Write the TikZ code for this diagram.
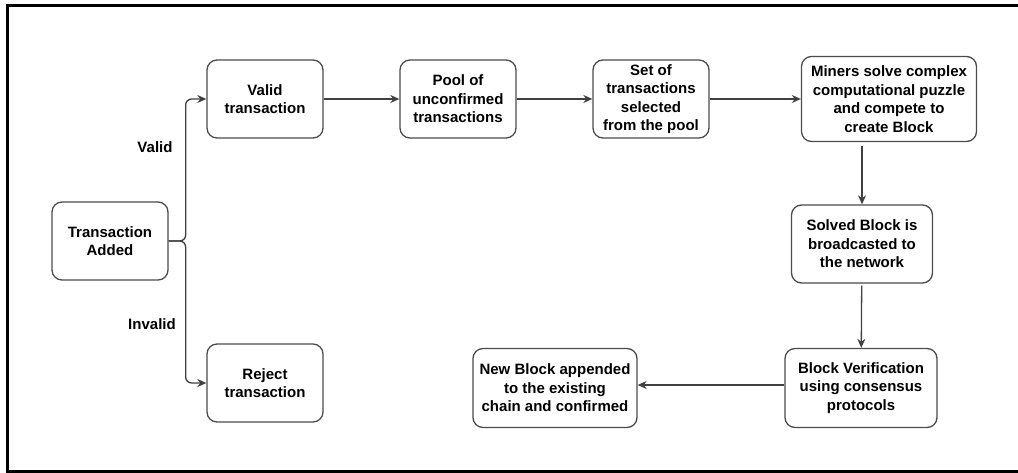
\documentclass[tikz,border=0pt]{standalone}
\usepackage{fontspec}
\setmainfont{Liberation Sans}
\usetikzlibrary{arrows.meta, positioning, calc}
\tikzset{
  box/.style={draw=black!70, line width=1.3pt, rounded corners=10pt, fill=white, minimum height=78pt, minimum width=116pt, inner sep=2pt, align=center, font=\fontsize{15}{18.5}\selectfont\bfseries},
  arr/.style={-{Stealth[length=9pt, width=8pt]}, line width=1.3pt, draw=black!75},
  lbl/.style={font=\fontsize{15}{18.5}\selectfont\bfseries},
}

\begin{document}
\begin{tikzpicture}[x=1pt, y=-1pt]
    \useasboundingbox (0,0) rectangle (1018,473);
    % frame
    \draw[line width=3pt] (1018,6) -- (7.5,6) -- (7.5,471.5) -- (1018,471.5);

    \node[box] (added) at (110,241) {Transaction\\Added};
    \node[box] (valid) at (265,99) {Valid\\transaction};
    \node[box] (reject) at (265,383) {Reject\\transaction};
    \node[box] (pool) at (458,99) {Pool of\\unconfirmed\\transactions};
    \node[box] (sel) at (651,99) {Set of\\transactions\\selected\\from the pool};
    \node[box, minimum width=175pt, minimum height=85pt] (miners) at (889,99) {Miners solve complex\\computational puzzle\\and compete to\\create Block};
    \node[box, minimum width=141pt] (solved) at (862,244) {Solved Block is\\broadcasted to\\the network};
    \node[box, minimum width=152pt, minimum height=79pt] (verify) at (861,388) {Block Verification\\using consensus\\protocols};
    \node[box, minimum width=164pt, minimum height=79pt] (newblk) at (555,388) {New Block appended\\to the existing\\chain and confirmed};

    % branch from the new transaction
    \coordinate (split) at ($(added.east)+(17,0)$);
    \draw[arr, rounded corners=6pt] (added.east) -- (split) |- (valid.west);
    \draw[arr, rounded corners=6pt] (added.east) -- (split) |- (reject.west);
    \node[lbl] (vlbl) at (155,147) {Valid};
    \node[lbl] (ilbl) at (152,324) {Invalid};

    % main flow
    \draw[arr] (valid) -- (pool);
    \draw[arr] (pool) -- (sel);
    \draw[arr] (sel) -- (miners);
    \draw[arr, shorten <=4pt] (miners.south -| solved.north) -- (solved.north);
    \draw[arr, shorten <=2pt] (solved) -- (verify);
    \draw[arr] (verify.west |- 0,385) -- (newblk.east |- 0,385);
\end{tikzpicture}
\end{document}
